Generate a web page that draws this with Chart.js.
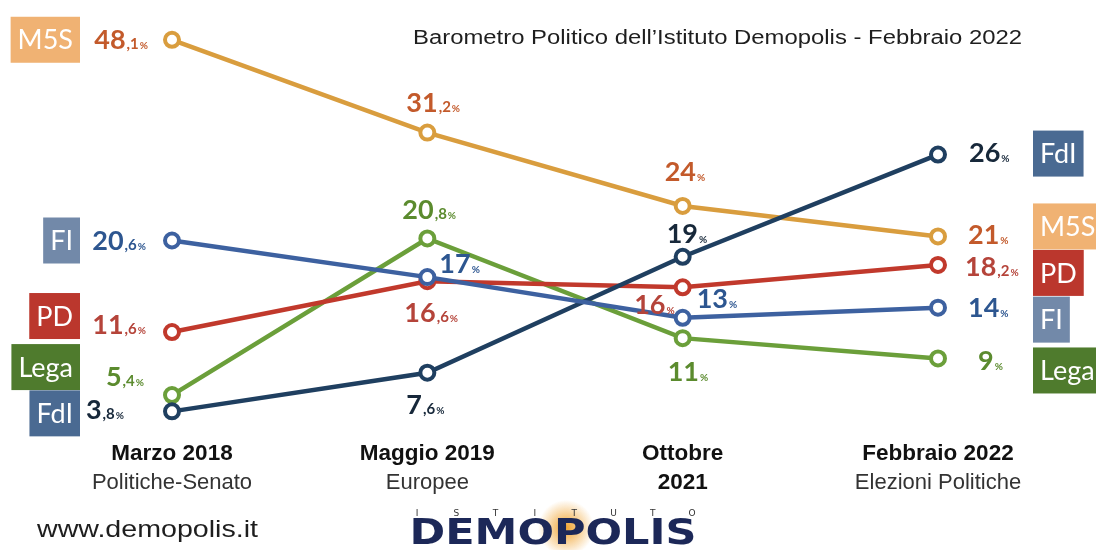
<!DOCTYPE html>
<html lang="it">
<head>
<meta charset="UTF-8">
<title>Barometro Politico Demopolis - Febbraio 2022</title>
<script src="https://cdn.jsdelivr.net/npm/chart.js@4.4.1/dist/chart.umd.min.js"></script>
<style>
    body { margin: 0; background: #ffffff; }
    #wrap { position: relative; width: 1096px; height: 550px; }
</style>
</head>
<body>
<div id="wrap"><canvas id="chart"></canvas></div>
<script>
    // --- dati ---
    const periods = ['Marzo 2018', 'Maggio 2019', 'Ottobre 2021', 'Febbraio 2022'];
    const periodTitles = [['Marzo 2018'], ['Maggio 2019'], ['Ottobre', '2021'], ['Febbraio 2022']];
    const periodNotes = ['Politiche-Senato', 'Europee', '', 'Elezioni Politiche'];
    const parties = ['M5S', 'FI', 'PD', 'Lega', 'FdI'];
    const m5s = [48.1, 31.2, 24, 21];
    const fi = [20.6, 17, 13, 14];
    const pd = [11.6, 16.6, 16, 18.2];
    const lega = [5.4, 20.8, 11, 9];
    const fdi = [3.8, 7.6, 19, 26];
    const chartTitle = "Barometro Politico dell\u2019Istituto Demopolis - Febbraio 2022";

    // stile per partito
    const style = {
        M5S:  { line: '#d99d3e', box: '#f0b273', text: '#c35a2b', order: 2 },
        FI:   { line: '#3d61a0', box: '#7289a9', text: '#2d5690', order: 0 },
        PD:   { line: '#c1392c', box: '#bb372d', text: '#b5443a', order: 3 },
        Lega: { line: '#6b9f3a', box: '#4f7b2d', text: '#5b8b2e', order: 4 },
        FdI:  { line: '#1f3f60', box: '#4a6a92', text: '#17283a', order: 1 }
    };
    // posizione delle etichette rispetto al punto: [dx, dy, allineamento]
    const labelPos = {
        M5S:  [[-24, 0, 'right'], [-21, -30, 'left'], [-18, -34, 'left'], [30, -1, 'left']],
        FI:   [[-26, 0, 'right'], [12, -13, 'left'], [14, -19, 'left'], [30, 0, 'left']],
        PD:   [[-26, -7, 'right'], [-23, 32, 'left'], [-8, 18, 'right'], [27, 2, 'left']],
        Lega: [[-28, -18, 'right'], [-25, -28, 'left'], [-15, 34, 'left'], [40, 3, 'left']],
        FdI:  [[-48, -1, 'right'], [-21, 32, 'left'], [-16, -23, 'left'], [31, -2, 'left']]
    };
    const leftBox = { M5S: 0, FI: 0, PD: -16, Lega: -28, FdI: 2 };
    const rightBox = { M5S: -10, FI: 12, PD: 8, Lega: 12, FdI: -1 };

    // l'originale non è in scala: asse a tratti [valore, posizione]
    const axisKnots = [[0, 0], [24, 24], [26, 29.05], [31.2, 31.21], [48.1, 40.34], [60, 46.6]];
    function squash(v) {
        for (let k = 1; k < axisKnots.length; k++) {
            const [v0, f0] = axisKnots[k - 1], [v1, f1] = axisKnots[k];
            if (v <= v1) return f0 + (v - v0) * (f1 - f0) / (v1 - v0);
        }
        return v;
    }
    class SquashScale extends Chart.LinearScale {
        getPixelForValue(v) { return v == null ? NaN : super.getPixelForValue(squash(v)); }
    }
    SquashScale.id = 'squash';
    SquashScale.defaults = Chart.LinearScale.defaults;
    Chart.register(SquashScale);

    const seriesData = { M5S: m5s, FI: fi, PD: pd, Lega: lega, FdI: fdi };

    function fmt(v) {
        const s = String(v).split('.');
        return { int: s[0], dec: s[1] ? ',' + s[1] : '' };
    }

    // testo allargato/stretto fino alla larghezza voluta
    function fitText(ctx, text, x, y, width, align) {
        const w = ctx.measureText(text).width;
        const sx = width / w;
        const left = align === 'center' ? x - width / 2 : x;
        ctx.save();
        ctx.textAlign = 'left';
        ctx.translate(left, y);
        ctx.scale(sx, 1);
        ctx.fillText(text, 0, 0);
        ctx.restore();
    }

    function drawValue(ctx, v, x, y, align, color) {
        const p = fmt(v);
        const big = 'bold 27px Lato, "Open Sans", sans-serif';
        const mid = 'bold 15px Lato, "Open Sans", sans-serif';
        const small = 'bold 10px Lato, "Open Sans", sans-serif';
        ctx.font = big; const w1 = ctx.measureText(p.int).width;
        ctx.font = mid; const w2 = p.dec ? ctx.measureText(p.dec).width + 1 : 0;
        ctx.font = small; const w3 = ctx.measureText('%').width + 1;
        const total = w1 + w2 + w3;
        let sx = align === 'right' ? x - total : x;
        const base = y + 9;
        ctx.fillStyle = color;
        ctx.textAlign = 'left';
        ctx.textBaseline = 'alphabetic';
        ctx.font = big; ctx.fillText(p.int, sx, base);
        if (p.dec) { ctx.font = mid; ctx.fillText(p.dec, sx + w1 + 1, base); }
        ctx.font = small; ctx.fillText('%', sx + w1 + w2 + 1, base);
    }

    function drawBox(ctx, text, x, y, side, color) {
        ctx.font = '27px Lato, "Open Sans", sans-serif';
        const w = ctx.measureText(text).width + 14;
        const h = 46;
        const bx = side === 'left' ? x - w : x;
        ctx.fillStyle = color;
        ctx.fillRect(bx, y - h / 2, w, h);
        ctx.fillStyle = '#ffffff';
        ctx.textAlign = 'center';
        ctx.textBaseline = 'middle';
        ctx.fillText(text, bx + w / 2, y + 1);
    }

    const decorPlugin = {
        id: 'decor',
        afterDatasetsDraw(chart) {
            const ctx = chart.ctx;
            ctx.save();
            chart.data.datasets.forEach((ds, i) => {
                const party = ds.label;
                const st = style[party];
                const pts = chart.getDatasetMeta(i).data;
                pts.forEach((pt, j) => {
                    const [dx, dy, al] = labelPos[party][j];
                    drawValue(ctx, ds.data[j], pt.x + dx, pt.y + dy, al, st.text);
                });
                const first = pts[0], last = pts[pts.length - 1];
                drawBox(ctx, party, first.x - 92, first.y + leftBox[party], 'left', st.box);
                drawBox(ctx, party, last.x + 95, last.y + rightBox[party], 'right', st.box);
            });
            ctx.restore();
        },
        afterDraw(chart) {
            const ctx = chart.ctx;
            const xs = chart.scales.x;
            ctx.save();
            ctx.textBaseline = 'middle';
            // titolo
            ctx.fillStyle = '#1e1e1e';
            ctx.font = '20px "Liberation Sans", Arial, sans-serif';
            fitText(ctx, chartTitle, 413, 38, 609, 'left');
            // etichette asse x
            ctx.textAlign = 'center';
            periods.forEach((p, i) => {
                const x = xs.getPixelForValue(i);
                const lines = periodTitles[i];
                ctx.fillStyle = '#111111';
                ctx.font = 'bold 22.5px "Liberation Sans", Arial, sans-serif';
                lines.forEach((l, k) => ctx.fillText(l, x, 454 + k * 29));
                if (periodNotes[i]) {
                    ctx.fillStyle = '#333333';
                    ctx.font = '22px "Liberation Sans", Arial, sans-serif';
                    ctx.fillText(periodNotes[i], x, 483);
                }
            });
            // piè di pagina
            ctx.fillStyle = '#1e1e1e';
            ctx.font = '24px "Liberation Sans", Arial, sans-serif';
            fitText(ctx, 'www.demopolis.it', 37, 530, 221, 'left');
            const g = ctx.createRadialGradient(566, 528, 2, 566, 528, 28);
            g.addColorStop(0, 'rgba(240,160,40,0.9)');
            g.addColorStop(1, 'rgba(240,160,40,0)');
            ctx.fillStyle = g;
            ctx.fillRect(536, 496, 60, 54);
            ctx.fillStyle = '#333333';
            ctx.font = '9px "DejaVu Sans", sans-serif';
            ctx.textAlign = 'center';
            'ISTITUTO'.split('').forEach((c, k) => ctx.fillText(c, 417 + k * 39.3, 514));
            ctx.fillStyle = '#1c2858';
            ctx.font = 'bold 36px "DejaVu Sans", sans-serif';
            fitText(ctx, 'DEMOPOLIS', 553, 535, 287, 'center');
            ctx.restore();
        }
    };

    new Chart(document.getElementById('chart'), {
        type: 'line',
        data: {
            labels: periods,
            datasets: parties.map(p => ({
                label: p,
                data: seriesData[p],
                borderColor: style[p].line,
                borderWidth: 4.5,
                pointRadius: 7,
                pointHoverRadius: 7,
                pointBorderWidth: 4,
                pointBackgroundColor: '#ffffff',
                pointBorderColor: style[p].line,
                tension: 0,
                order: style[p].order
            }))
        },
        options: {
            responsive: true,
            maintainAspectRatio: false,
            animation: false,
            layout: { padding: { left: 172, right: 158, top: 30, bottom: 100 } },
            plugins: { legend: { display: false }, tooltip: { enabled: false }, title: { display: false } },
            scales: {
                x: { type: 'category', display: false, offset: false },
                y: { type: 'squash', display: false, min: 0, max: 41.3 }
            }
        },
        plugins: [decorPlugin]
    });
</script>
</body>
</html>
